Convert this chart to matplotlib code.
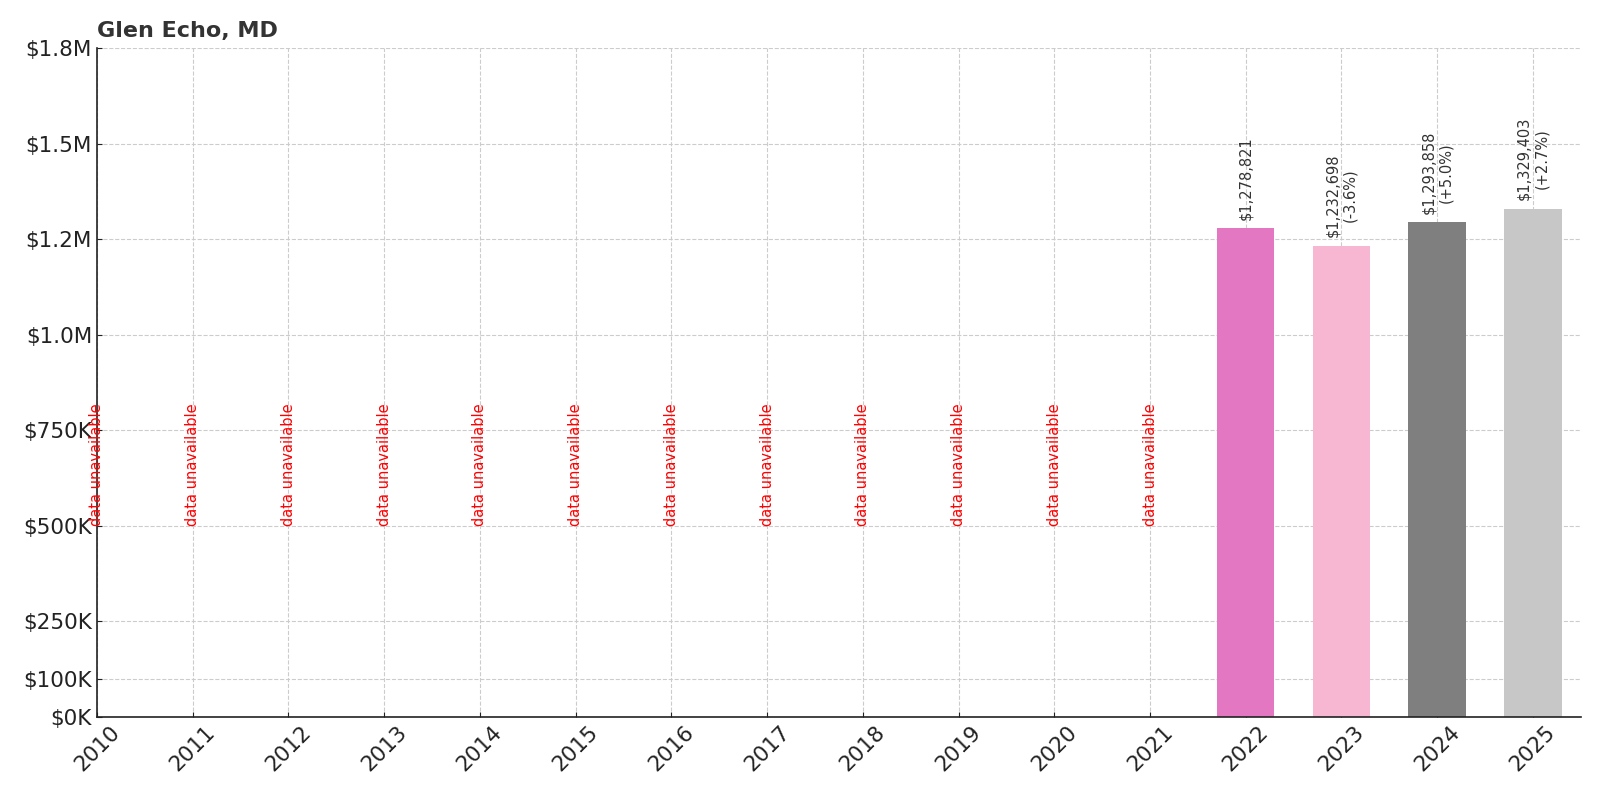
import matplotlib
matplotlib.use('Agg')
import matplotlib.pyplot as plt
from matplotlib.ticker import FuncFormatter

years = list(range(2010, 2026))
values = [None] * 12 + [1278821, 1232698, 1293858, 1329403]
bar_colors = ['#e377c2', '#f7b6d2', '#7f7f7f', '#c7c7c7']
y_ticks = [0, 100000, 250000, 500000, 750000, 1000000, 1250000, 1500000, 1750000]


def fmt_money(v, _pos=None):
    if v >= 1e6:
        return f'${v / 1e6:.1f}M'
    return f'${v / 1e3:.0f}K'


fig, ax = plt.subplots(figsize=(16, 8), dpi=100)

x = list(range(len(years)))
ci = 0
prev = None
for i, v in zip(x, values):
    if v is None:
        ax.text(i, 500000, 'data unavailable', rotation=90, ha='center', va='bottom',
                color='red', fontsize=10.5)
        continue
    ax.bar(i, v, width=0.6, color=bar_colors[ci], zorder=2)
    ci += 1
    label = f'${v:,.0f}'
    if prev is not None:
        pct = (v - prev) / prev * 100
        label += f'\n({pct:+.1f}%)'
    ax.text(i, v + 22000, label, rotation=90, ha='center', va='bottom',
            fontsize=10.5, color='#333333')
    prev = v

ax.set_xlim(0, 15.5)
ax.set_ylim(0, 1750000)
ax.set_xticks(x)
ax.set_xticklabels([str(y) for y in years], rotation=45, ha='center')
ax.set_yticks(y_ticks)
ax.yaxis.set_major_formatter(FuncFormatter(fmt_money))
ax.tick_params(axis='both', direction='in', labelsize=15.5, colors='#222222')
ax.grid(True, linestyle='--', color='#cccccc', linewidth=0.8, zorder=0)
ax.set_axisbelow(True)
for s in ['top', 'right']:
    ax.spines[s].set_visible(False)
for s in ['left', 'bottom']:
    ax.spines[s].set_linewidth(1.2)
    ax.spines[s].set_color('#222222')

ax.set_title('Glen Echo, MD', loc='left', fontsize=16, fontweight='bold',
             color='#333333', pad=8)

fig.subplots_adjust(left=0.0606, right=0.988, top=0.94, bottom=0.104)
fig.savefig('out.png', dpi=100)
